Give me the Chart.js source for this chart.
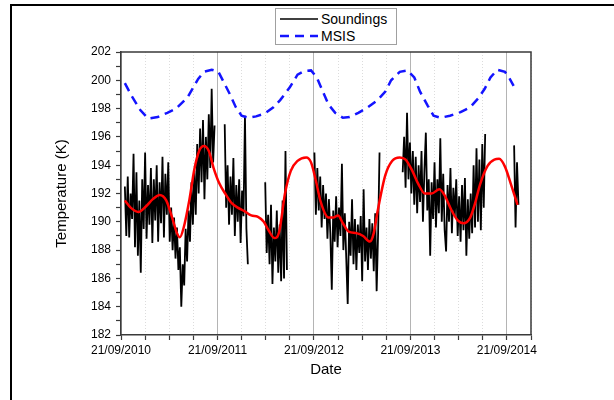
<!DOCTYPE html>
<html><head><meta charset="utf-8">
<script src="https://cdn.jsdelivr.net/npm/chart.js@4.4.1/dist/chart.umd.min.js"></script>
<style>
html,body{margin:0;padding:0;background:#fff;width:614px;height:400px;overflow:hidden;}
#wrap{position:relative;width:614px;height:400px;}
#frame{position:absolute;left:10px;top:4px;width:700px;height:500px;border:2px solid #000;box-sizing:border-box;}
#c{position:absolute;left:0;top:0;}
#legend{position:absolute;left:275px;top:8px;width:122px;height:37px;border:1px solid #a0a0a0;background:#fff;box-sizing:border-box;font-family:'Liberation Sans',Arial,sans-serif;font-size:14px;color:#000;}
.row{position:absolute;left:4px;height:17px;display:flex;align-items:center;white-space:nowrap;}
.row svg{margin-right:3px;}
</style></head>
<body><div id="wrap">
<div id="frame"></div>
<canvas id="c" width="614" height="400"></canvas>
<div id="legend">
  <div class="row" style="top:1px"><svg width="38" height="10"><line x1="0" y1="5" x2="38" y2="5" stroke="#000" stroke-width="1.5"/></svg><span>Soundings</span></div>
  <div class="row" style="top:18px"><svg width="38" height="10"><line x1="0" y1="5" x2="38" y2="5" stroke="#1414ff" stroke-width="2.5" stroke-dasharray="9,6"/></svg><span>MSIS</span></div>
</div>
</div>
<script>
const xTickLabels = ['21/09/2010','21/09/2011','21/09/2012','21/09/2013','21/09/2014'];
const xMin = 0, xMax = 4.25;          // years since 21/09/2010
const yMin = 182, yMax = 202;

// Soundings: regularly sampled (years since start), null = no data
const soundStart = 0.04, soundStep = 0.015;
const soundings = [
192.5,189.0,193.2,188.9,192.0,190.2,194.8,188.2,193.5,187.6,
191.5,186.4,193.0,189.5,194.9,188.8,192.6,189.8,193.8,188.5,
193.0,190.1,194.0,188.6,192.8,189.9,194.6,188.9,193.4,190.5,
194.2,188.6,
191.0,188.0,190.3,187.4,189.6,186.6,188.2,184.0,187.0,185.5,189.5,187.2,190.8,188.6,
192.8,189.8,193.6,190.5,195.5,192.0,196.6,192.8,197.2,191.6,196.0,193.0,197.6,193.8,199.4,194.2,196.8,
null,null,null,null,null,null,
196.9,191.0,194.0,189.8,193.2,190.5,194.5,189.0,192.6,190.0,193.0,188.5,192.2,190.4,197.5,189.5,187.0,
null,null,null,null,null,null,null,null,null,null,null,
192.8,187.8,190.5,187.0,191.2,185.6,189.6,187.2,190.8,186.4,189.8,185.8,191.5,186.0,195.0,186.6,
null,null,null,null,null,null,null,null,null,null,null,null,null,null,null,null,null,null,
194.9,190.5,193.8,190.8,193.2,189.6,192.6,190.2,192.0,188.8,
191.6,189.2,185.2,190.8,188.6,191.8,188.2,191.0,189.0,194.1,
188.0,190.6,187.4,184.2,190.0,187.6,191.6,187.0,190.2,186.6,
189.8,187.8,190.4,185.8,192.3,187.2,189.6,186.6,190.2,187.4,
189.9,186.5,190.6,185.1,189.2,194.9,
null,null,null,null,null,null,null,null,null,null,null,null,null,null,null,
193.5,196.0,192.4,197.7,193.0,195.6,192.0,195.0,191.2,194.6,
190.6,194.0,191.4,195.0,190.0,193.6,196.3,190.8,193.0,187.6,
192.8,190.2,194.2,189.6,193.0,190.6,195.9,190.0,193.4,189.4,
187.9,192.6,190.0,193.8,189.2,192.4,190.4,193.0,189.0,191.8,
188.6,192.6,189.4,193.1,187.6,191.6,188.8,192.0,189.2,194.0,
189.6,195.2,190.0,194.4,189.4,195.5,191.0,196.2,
null,null,null,null,null,null,null,null,null,null,null,null,null,null,null,null,null,null,null,
195.4,189.6,194.2,191.2
];

// Smoothed fit (red)
const fitYears = [0.04,0.10,0.18,0.26,0.33,0.40,0.47,0.53,0.58,0.61,0.65,0.71,0.76,0.81,0.86,0.91,0.96,1.02,1.08,1.15,1.21,1.28,1.35,1.42,1.48,1.53,1.59,1.64,1.70,1.76,1.83,1.92,1.97,2.02,2.07,2.15,2.20,2.25,2.30,2.36,2.44,2.51,2.58,2.62,2.66,2.74,2.81,2.89,2.95,3.02,3.08,3.15,3.22,3.30,3.36,3.42,3.49,3.55,3.62,3.67,3.72,3.80,3.87,3.92,3.98,4.04,4.11];
const fitTemps = [191.5,191.0,190.7,191.1,191.6,191.9,191.5,190.3,189.2,188.9,189.6,191.6,193.7,195.0,195.35,195.0,193.8,192.7,192.0,191.3,191.0,190.75,190.45,190.35,190.0,189.4,188.85,189.3,192.0,193.6,194.3,194.55,194.2,192.9,191.4,190.3,190.3,190.45,189.9,189.3,189.2,189.0,188.6,189.2,190.75,193.3,194.3,194.55,194.4,193.6,192.7,192.0,192.0,192.3,191.8,190.9,190.1,189.9,190.3,191.3,192.6,193.95,194.4,194.45,193.9,192.7,191.2];

// MSIS model (blue dashed)
const msisYears = [0.04,0.11,0.20,0.28,0.38,0.48,0.57,0.69,0.80,0.86,0.94,1.01,1.07,1.13,1.19,1.25,1.32,1.40,1.49,1.58,1.65,1.75,1.83,1.90,1.97,2.03,2.08,2.15,2.22,2.30,2.37,2.46,2.56,2.66,2.74,2.80,2.89,2.97,3.04,3.10,3.18,3.24,3.31,3.41,3.52,3.62,3.70,3.77,3.83,3.90,3.98,4.03,4.07];
const msisTemps = [199.8,198.9,197.9,197.3,197.4,197.7,198.0,198.8,200.1,200.6,200.75,200.6,199.8,199.0,198.1,197.5,197.35,197.45,197.65,198.1,198.6,199.5,200.4,200.65,200.7,200.2,199.4,198.3,197.7,197.35,197.4,197.7,198.1,198.6,199.2,200.0,200.6,200.7,200.2,199.2,198.2,197.5,197.35,197.5,197.75,198.1,198.7,199.4,200.2,200.75,200.6,200.1,199.6];

const soundPts = soundings.map((t, i) => ({x: soundStart + soundStep * i, y: t}));
const fitPts = fitYears.map((x, i) => ({x, y: fitTemps[i]}));
const msisPts = msisYears.map((x, i) => ({x, y: msisTemps[i]}));

const FONT = "'Liberation Sans', Arial, Helvetica, sans-serif";
const AXIS = '#3a3a3a';
const isInt = v => Math.abs(v - Math.round(v)) < 1e-6;

const framePlugin = {
  id: 'frame',
  afterDatasetsDraw(chart) {
    const {ctx, chartArea: a} = chart;
    ctx.save();
    ctx.strokeStyle = AXIS; ctx.lineWidth = 1.5;
    ctx.beginPath();
    ctx.moveTo(a.left, a.top); ctx.lineTo(a.right, a.top); ctx.lineTo(a.right, a.bottom);
    ctx.stroke();
    ctx.restore();
  }
};

new Chart(document.getElementById('c'), {
  type: 'line',
  data: {
    datasets: [
      {label: 'Soundings', data: soundPts, borderColor: '#000', borderWidth: 1.8, pointRadius: 0, tension: 0, spanGaps: false, order: 2},
      {label: 'Fit', data: fitPts, borderColor: '#ff0000', borderWidth: 2.5, pointRadius: 0, cubicInterpolationMode: 'monotone', order: 0},
      {label: 'MSIS', data: msisPts, borderColor: '#1414ff', borderWidth: 2.5, borderDash: [9, 6], pointRadius: 0, tension: 0, order: 1}
    ]
  },
  options: {
    responsive: false, animation: false, events: [],
    layout: {padding: {left: 0, right: 83, top: 52, bottom: 0}},
    plugins: {legend: {display: false}, tooltip: {enabled: false}},
    scales: {
      x: {
        type: 'linear', min: xMin, max: xMax,
        afterFit: s => { s.height = 65; },
        ticks: {stepSize: 0.25, autoSkip: false, maxRotation: 0, padding: 3, color: '#000',
          font: {family: FONT, size: 12},
          callback: v => isInt(v) ? (xTickLabels[Math.round(v)] || '') : ''},
        grid: {color: c => (c.tick && isInt(c.tick.value)) ? '#b4b4b4' : '#dcdcdc', lineWidth: 1,
          tickLength: 5, tickColor: AXIS, tickWidth: 1.2, tickBorderDash: []},
        border: {color: AXIS, width: 1.5, dash: c => (c.tick && !isInt(c.tick.value)) ? [1, 2] : []},
        title: {display: true, text: 'Date', color: '#000', font: {family: FONT, size: 15}, padding: {top: 0, bottom: 21}}
      },
      y: {
        min: yMin, max: yMax,
        afterFit: s => { s.width = 121; },
        ticks: {stepSize: 1, autoSkip: false, padding: 5, color: '#000', font: {family: FONT, size: 12},
          callback: v => (Math.round(v) % 2 === 0) ? String(Math.round(v)) : ''},
        grid: {drawOnChartArea: false, tickLength: 5, tickColor: AXIS, tickWidth: 1.2},
        border: {color: AXIS, width: 1.5},
        title: {display: true, text: 'Temperature (K)', color: '#000', font: {family: FONT, size: 15}, padding: {top: 53, bottom: 0}}
      }
    }
  },
  plugins: [framePlugin]
});
</script>
</body></html>
